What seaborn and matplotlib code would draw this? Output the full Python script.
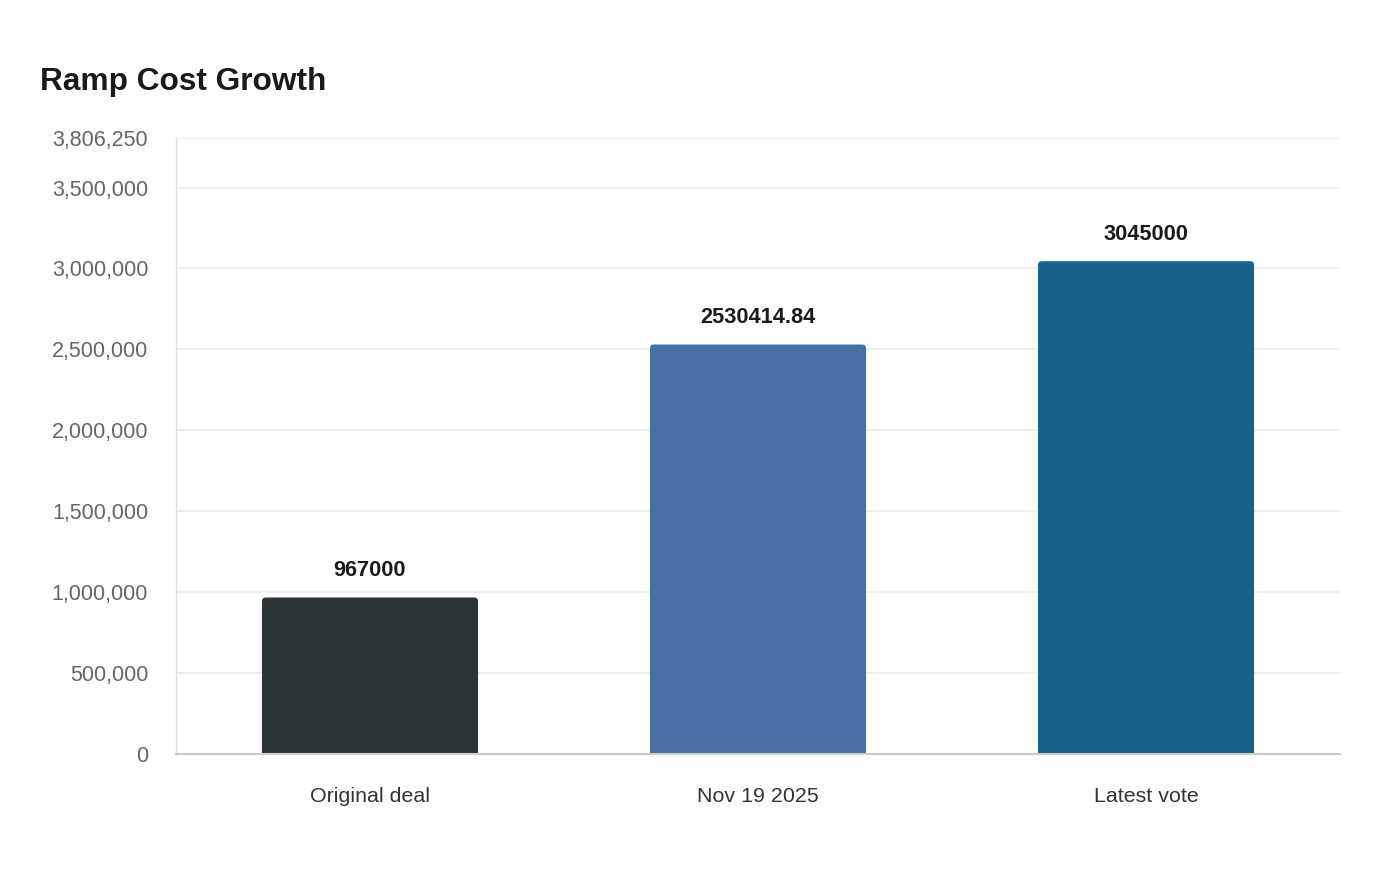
import matplotlib
matplotlib.use("Agg")
import matplotlib.pyplot as plt
from matplotlib.patches import FancyBboxPatch
import seaborn as sns
import pandas as pd

categories = ["Original deal", "Nov 19 2025", "Latest vote"]
values = [967000, 2530414.84, 3045000]
value_labels = ["967000", "2530414.84", "3045000"]
bar_colors = ["#2d3436", "#4a6fa5", "#186188"]
y_ticks = [0, 500000, 1000000, 1500000, 2000000, 2500000, 3000000, 3500000, 3806250]
title = "Ramp Cost Growth"

sns.set_theme(style="white")
plt.rcParams["font.family"] = ["Liberation Sans", "DejaVu Sans"]

df = pd.DataFrame({"category": categories, "value": values})

fig = plt.figure(figsize=(14, 8.8), dpi=100)
ax = fig.add_axes([176 / 1400, 1 - 754 / 880, (1340 - 176) / 1400, (754 - 138) / 880])

sns.barplot(data=df, x="category", y="value", hue="category", palette=bar_colors,
            width=0.557, legend=False, ax=ax, saturation=1, zorder=3)

ymax = y_ticks[-1]
ax.set_ylim(0, ymax)
ax.set_xlim(-0.5, len(categories) - 0.5)

# px -> data conversions
px_x = 1.0 / 388.0
px_y = ymax / 616.0
r = 4 * px_x
aspect = px_y / px_x

patches = list(ax.patches)
for p in patches:
    x0, w, h = p.get_x(), p.get_width(), p.get_height()
    fc = p.get_facecolor()
    p.remove()
    fb = FancyBboxPatch((x0, -10 * px_y), w, h + 10 * px_y,
                        boxstyle=f"round,pad=0,rounding_size={r}",
                        mutation_aspect=aspect, facecolor=fc, edgecolor="none",
                        zorder=3)
    ax.add_patch(fb)

for i, (v, lab) in enumerate(zip(values, value_labels)):
    ax.annotate(lab, (i, v), xytext=(0, 11.8), textcoords="offset points",
                ha="center", va="bottom", fontsize=15.7, fontweight="bold", color="#1a1a1a")

ax.set_yticks(y_ticks)
ax.set_yticklabels([f"{t:,}" for t in y_ticks])
ax.grid(axis="y", color="#ebebeb", linewidth=1.2, zorder=0)
ax.grid(axis="x", visible=False)
ax.set_xlabel("")
ax.set_ylabel("")

for s in ["top", "right"]:
    ax.spines[s].set_visible(False)
ax.spines["left"].set_color("#dddddd")
ax.spines["left"].set_linewidth(1)
ax.spines["bottom"].set_color("#cccccc")
ax.spines["bottom"].set_linewidth(1.5)
ax.spines["left"].set_zorder(4)
ax.spines["bottom"].set_zorder(4)

ax.tick_params(axis="y", labelsize=15.5, labelcolor="#666666", length=0, pad=20)
ax.tick_params(axis="x", labelsize=15.4, labelcolor="#333333", length=0, pad=24)

fig.text(40 / 1400, 1 - 90 / 880, title, fontsize=22.8, fontweight="bold",
         color="#1a1a1a", ha="left", va="baseline")

fig.savefig("out.png", dpi=100, facecolor="white")
